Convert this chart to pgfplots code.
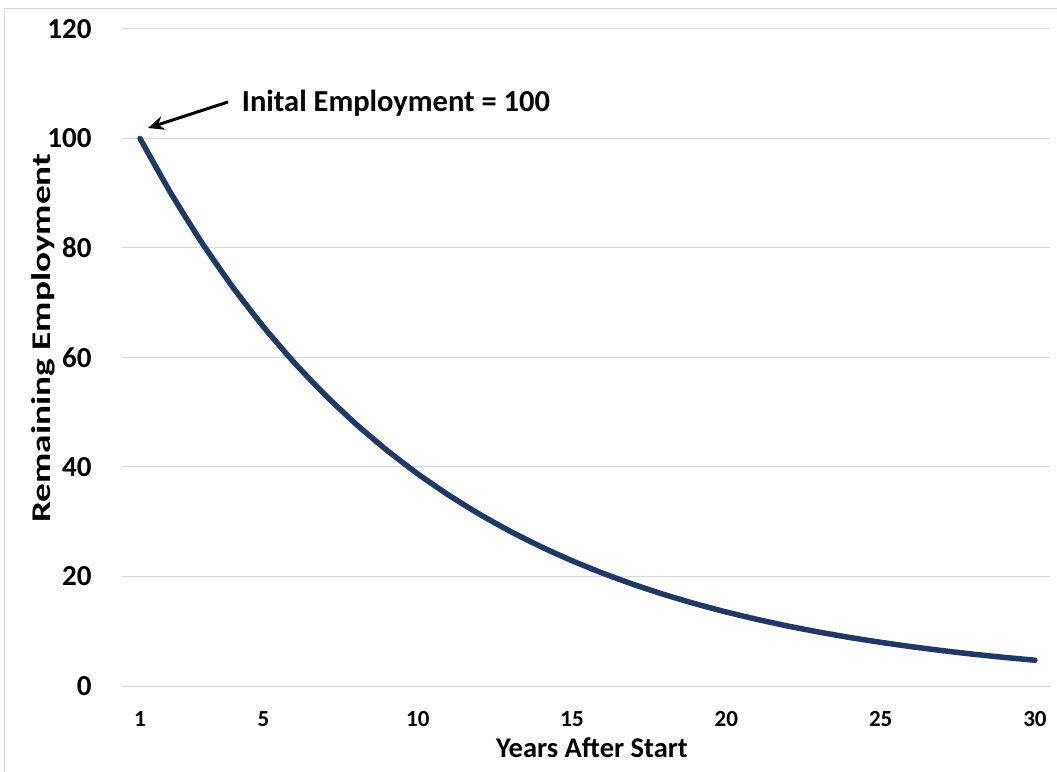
\documentclass[border=0pt]{standalone}
\usepackage{fontspec}
\setmainfont{Carlito}
\usepackage{graphicx}
\usepackage{pgfplots}
\pgfplotsset{compat=1.18}
\usetikzlibrary{arrows.meta}
\definecolor{navy}{HTML}{203864}
\definecolor{gridgray}{HTML}{D9D9D9}
\begin{document}
\begin{tikzpicture}
\useasboundingbox (0pt,0pt) rectangle (1057pt,771pt);
\draw[gridgray, line width=1pt] (4pt,-10pt) -- (4pt,762pt) -- (1070pt,762pt);
\begin{axis}[
  at={(121.5pt,85pt)}, anchor=south west,
  scale only axis, width=928.9pt, height=657pt,
  xmin=0.4, xmax=30.5, ymin=0, ymax=120,
  xtick={1,5,10,15,20,25,30},
  ytick={0,20,40,60,80,100,120},
  axis line style={draw=none},
  major tick length=0pt,
  tick style={draw=none},
  ymajorgrids, major grid style={gridgray, line width=1pt},
  /pgf/number format/assume math mode=true,
  yticklabel style={font=\fontsize{29}{29}\selectfont\bfseries, anchor=east, inner sep=0pt, xshift=-29.8pt},
  xticklabel style={font=\fontsize{23}{23}\selectfont\bfseries, anchor=north, inner sep=0pt, yshift=-25pt},
  clip=false,
]
\addplot[navy, line width=5.5pt, line cap=round, line join=round, smooth, tension=0.3] coordinates {
(1,100) (2,90) (3,81) (4,72.9) (5,65.61) (6,59.05) (7,53.14) (8,47.83) (9,43.05) (10,38.74)
(11,34.87) (12,31.38) (13,28.24) (14,25.42) (15,22.88) (16,20.59) (17,18.53) (18,16.68) (19,15.01) (20,13.51)
(21,12.16) (22,10.94) (23,9.85) (24,8.86) (25,7.98) (26,7.18) (27,6.46) (28,5.81) (29,5.23) (30,4.71)
};
\end{axis}
\draw[line width=3pt, -{Stealth[length=16pt, width=14pt]}] (228pt,669pt) -- (148pt,643pt);
\node[anchor=base west, inner sep=0pt, font=\fontsize{30.5}{30.5}\selectfont\bfseries] at (241.7pt,659.3pt) {Inital Employment = 100};
\node[anchor=base, inner sep=0pt, font=\fontsize{28.5}{28.5}\selectfont\bfseries] at (592pt,14pt) {Years After Start};
\node[rotate=90, inner sep=0pt, font=\fontsize{27}{27}\selectfont\bfseries] at (43pt,433pt) {\scalebox{1.38}[1]{Remaining Employment}};
\end{tikzpicture}
\end{document}
